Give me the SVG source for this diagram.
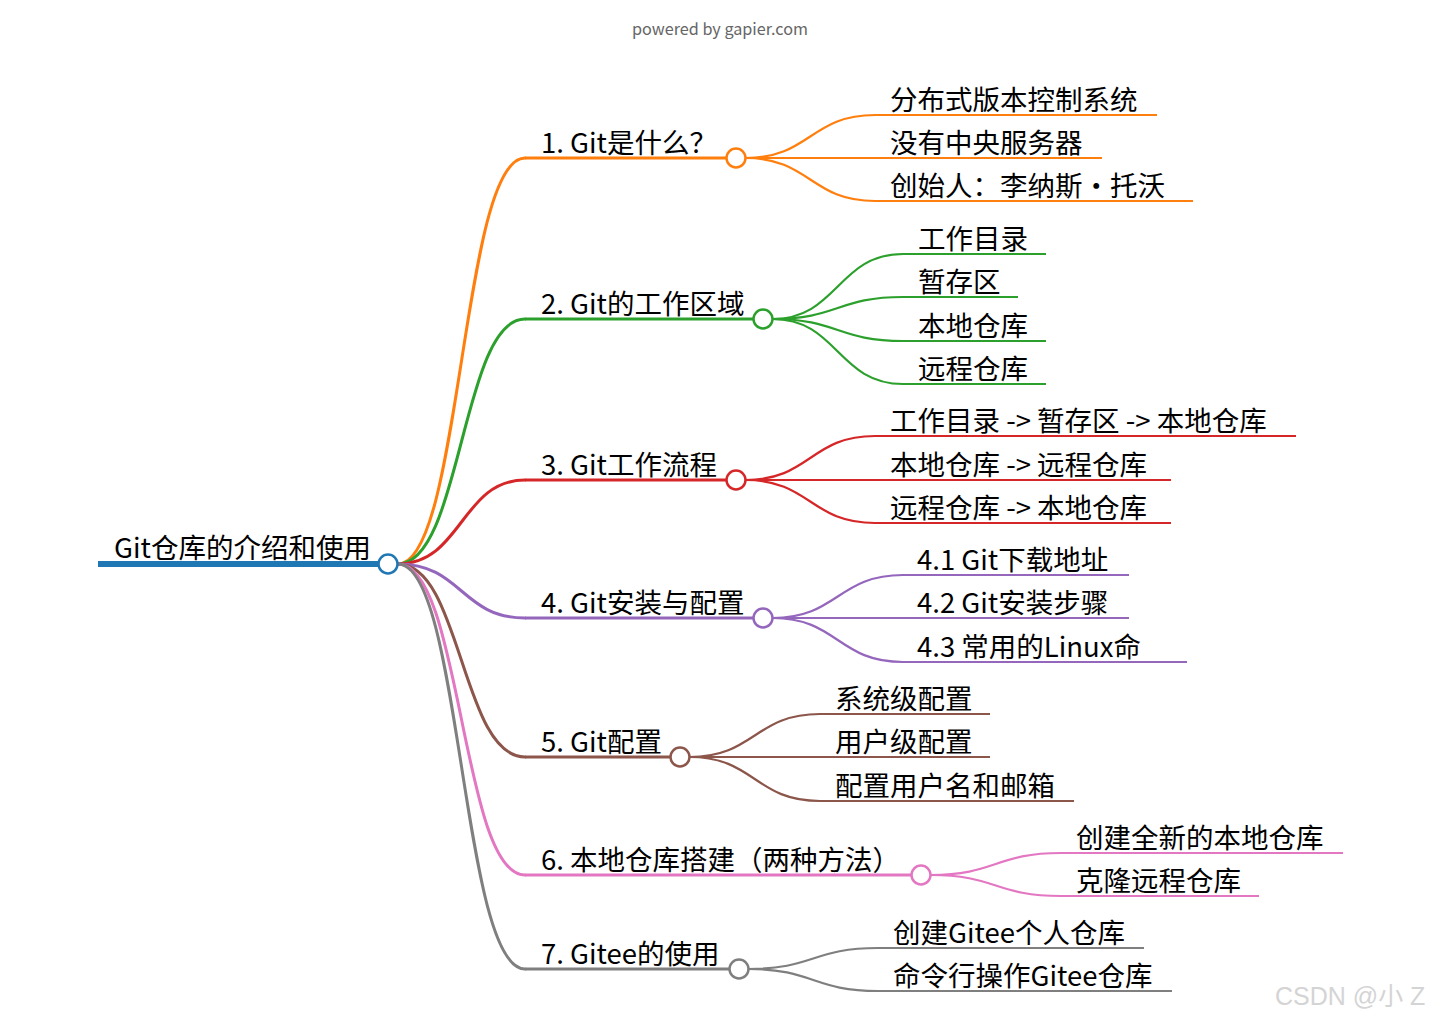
<svg xmlns="http://www.w3.org/2000/svg" width="1440" height="1021" viewBox="0 0 1440 1021">
<style>
text{font-family:"Noto Sans CJK SC","Noto Sans",sans-serif;font-size:27.5px;fill:#000}
.c{fill:none;stroke-linecap:round}
.l1{stroke-width:3}
.l2{stroke-width:2.2}
.u{fill:none;stroke-width:2.2}
.u1{fill:none;stroke-width:3}
.dot{fill:#fff;stroke-width:2.5}
.o{stroke:#ff7f0e}.g{stroke:#2ca02c}.r{stroke:#d62728}.p{stroke:#9467bd}.b{stroke:#8c564b}.k{stroke:#e377c2}.y{stroke:#7f7f7f}.bl{stroke:#1f77b4}
</style>
<rect width="1440" height="1021" fill="#fff"/>
<text x="720" y="35" text-anchor="middle" style="font-size:16.2px;fill:#666">powered by gapier.com</text>

<g id="connectors">
<path class="c l1 o" d="M398,564 C461.5,564 461.5,158 525,158"/>
<path class="c l1 g" d="M398,564 C461.5,564 461.5,319 525,319"/>
<path class="c l1 r" d="M398,564 C461.5,564 461.5,480 525,480"/>
<path class="c l1 p" d="M398,564 C461.5,564 461.5,618 525,618"/>
<path class="c l1 b" d="M398,564 C461.5,564 461.5,757 525,757"/>
<path class="c l1 k" d="M398,564 C461.5,564 461.5,875 525,875"/>
<path class="c l1 y" d="M398,564 C461.5,564 461.5,969 525,969"/>

<path class="c l2 o" d="M745.5,158 C810.25,158 810.25,115 875,115"/>
<path class="c l2 o" d="M745.5,158 L875,158"/>
<path class="c l2 o" d="M745.5,158 C810.25,158 810.25,201 875,201"/>

<path class="c l2 g" d="M772.5,319 C837.75,319 837.75,254 903,254"/>
<path class="c l2 g" d="M772.5,319 C837.75,319 837.75,297 903,297"/>
<path class="c l2 g" d="M772.5,319 C837.75,319 837.75,341 903,341"/>
<path class="c l2 g" d="M772.5,319 C837.75,319 837.75,384 903,384"/>

<path class="c l2 r" d="M745.5,480 C810.25,480 810.25,436 875,436"/>
<path class="c l2 r" d="M745.5,480 L875,480"/>
<path class="c l2 r" d="M745.5,480 C810.25,480 810.25,523 875,523"/>

<path class="c l2 p" d="M772.5,618 C837.75,618 837.75,575 903,575"/>
<path class="c l2 p" d="M772.5,618 L903,618"/>
<path class="c l2 p" d="M772.5,618 C837.75,618 837.75,662 903,662"/>

<path class="c l2 b" d="M689.5,757 C754.75,757 754.75,714 820,714"/>
<path class="c l2 b" d="M689.5,757 L820,757"/>
<path class="c l2 b" d="M689.5,757 C754.75,757 754.75,801 820,801"/>

<path class="c l2 k" d="M930.5,875 C995.75,875 995.75,853 1061,853"/>
<path class="c l2 k" d="M930.5,875 C995.75,875 995.75,896 1061,896"/>

<path class="c l2 y" d="M748.5,969 C813.25,969 813.25,948 878,948"/>
<path class="c l2 y" d="M748.5,969 C813.25,969 813.25,991 878,991"/>
</g>

<g id="root">
<line x1="98" y1="564" x2="380" y2="564" stroke="#1f77b4" stroke-width="6"/>
<text x="114" y="558">Git仓库的介绍和使用</text>
<circle class="dot bl" cx="388" cy="564" r="9.5"/>
</g>

<g id="n1">
<line class="u1 o" x1="525" y1="158" x2="727" y2="158"/>
<text x="541" y="152.5">1. Git是什么？</text>
<circle class="dot o" cx="736" cy="158" r="9.5"/>
</g>
<g id="n1-1"><line class="u o" x1="875" y1="115" x2="1157" y2="115"/><text x="890" y="109.5">分布式版本控制系统</text></g>
<g id="n1-2"><line class="u o" x1="875" y1="158" x2="1102" y2="158"/><text x="890" y="152.5">没有中央服务器</text></g>
<g id="n1-3"><line class="u o" x1="875" y1="201" x2="1193" y2="201"/><text x="890" y="195.5">创始人：李纳斯・托沃</text></g>

<g id="n2">
<line class="u1 g" x1="525" y1="319" x2="754" y2="319"/>
<text x="541" y="313.5">2. Git的工作区域</text>
<circle class="dot g" cx="763" cy="319" r="9.5"/>
</g>
<g id="n2-1"><line class="u g" x1="903" y1="254" x2="1046" y2="254"/><text x="918" y="248.5">工作目录</text></g>
<g id="n2-2"><line class="u g" x1="903" y1="297" x2="1018" y2="297"/><text x="918" y="291.5">暂存区</text></g>
<g id="n2-3"><line class="u g" x1="903" y1="341" x2="1046" y2="341"/><text x="918" y="335.5">本地仓库</text></g>
<g id="n2-4"><line class="u g" x1="903" y1="384" x2="1046" y2="384"/><text x="918" y="378.5">远程仓库</text></g>

<g id="n3">
<line class="u1 r" x1="525" y1="480" x2="727" y2="480"/>
<text x="541" y="474.5">3. Git工作流程</text>
<circle class="dot r" cx="736" cy="480" r="9.5"/>
</g>
<g id="n3-1"><line class="u r" x1="875" y1="436" x2="1296" y2="436"/><text x="890" y="430.5">工作目录 -&gt; 暂存区 -&gt; 本地仓库</text></g>
<g id="n3-2"><line class="u r" x1="875" y1="480" x2="1171" y2="480"/><text x="890" y="474.5">本地仓库 -&gt; 远程仓库</text></g>
<g id="n3-3"><line class="u r" x1="875" y1="523" x2="1171" y2="523"/><text x="890" y="517.5">远程仓库 -&gt; 本地仓库</text></g>

<g id="n4">
<line class="u1 p" x1="525" y1="618" x2="754" y2="618"/>
<text x="541" y="612.5">4. Git安装与配置</text>
<circle class="dot p" cx="763" cy="618" r="9.5"/>
</g>
<g id="n4-1"><line class="u p" x1="903" y1="575" x2="1129" y2="575"/><text x="917" y="569.5">4.1 Git下载地址</text></g>
<g id="n4-2"><line class="u p" x1="903" y1="618" x2="1129" y2="618"/><text x="917" y="612.5">4.2 Git安装步骤</text></g>
<g id="n4-3"><line class="u p" x1="903" y1="662" x2="1187" y2="662"/><text x="917" y="656.5">4.3 常用的Linux命</text></g>

<g id="n5">
<line class="u1 b" x1="525" y1="757" x2="671" y2="757"/>
<text x="541" y="751.5">5. Git配置</text>
<circle class="dot b" cx="680" cy="757" r="9.5"/>
</g>
<g id="n5-1"><line class="u b" x1="820" y1="714" x2="990" y2="714"/><text x="835" y="708.5">系统级配置</text></g>
<g id="n5-2"><line class="u b" x1="820" y1="757" x2="990" y2="757"/><text x="835" y="751.5">用户级配置</text></g>
<g id="n5-3"><line class="u b" x1="820" y1="801" x2="1074" y2="801"/><text x="835" y="795.5">配置用户名和邮箱</text></g>

<g id="n6">
<line class="u1 k" x1="525" y1="875" x2="912" y2="875"/>
<text x="541" y="869.5">6. 本地仓库搭建（两种方法）</text>
<circle class="dot k" cx="921" cy="875" r="9.5"/>
</g>
<g id="n6-1"><line class="u k" x1="1061" y1="853" x2="1343" y2="853"/><text x="1076" y="847.5">创建全新的本地仓库</text></g>
<g id="n6-2"><line class="u k" x1="1061" y1="896" x2="1259" y2="896"/><text x="1076" y="890.5">克隆远程仓库</text></g>

<g id="n7">
<line class="u1 y" x1="525" y1="969" x2="730" y2="969"/>
<text x="541" y="963.5">7. Gitee的使用</text>
<circle class="dot y" cx="739" cy="969" r="9.5"/>
</g>
<g id="n7-1"><line class="u y" x1="878" y1="948" x2="1144" y2="948"/><text x="893" y="942.5">创建Gitee个人仓库</text></g>
<g id="n7-2"><line class="u y" x1="878" y1="991" x2="1172" y2="991"/><text x="893" y="985.5">命令行操作Gitee仓库</text></g>

<text x="1275" y="1005" style="font-family:'Liberation Sans','Noto Sans CJK SC',sans-serif;font-size:25px;fill:#d4d4d4">CSDN @小 Z</text>
</svg>
